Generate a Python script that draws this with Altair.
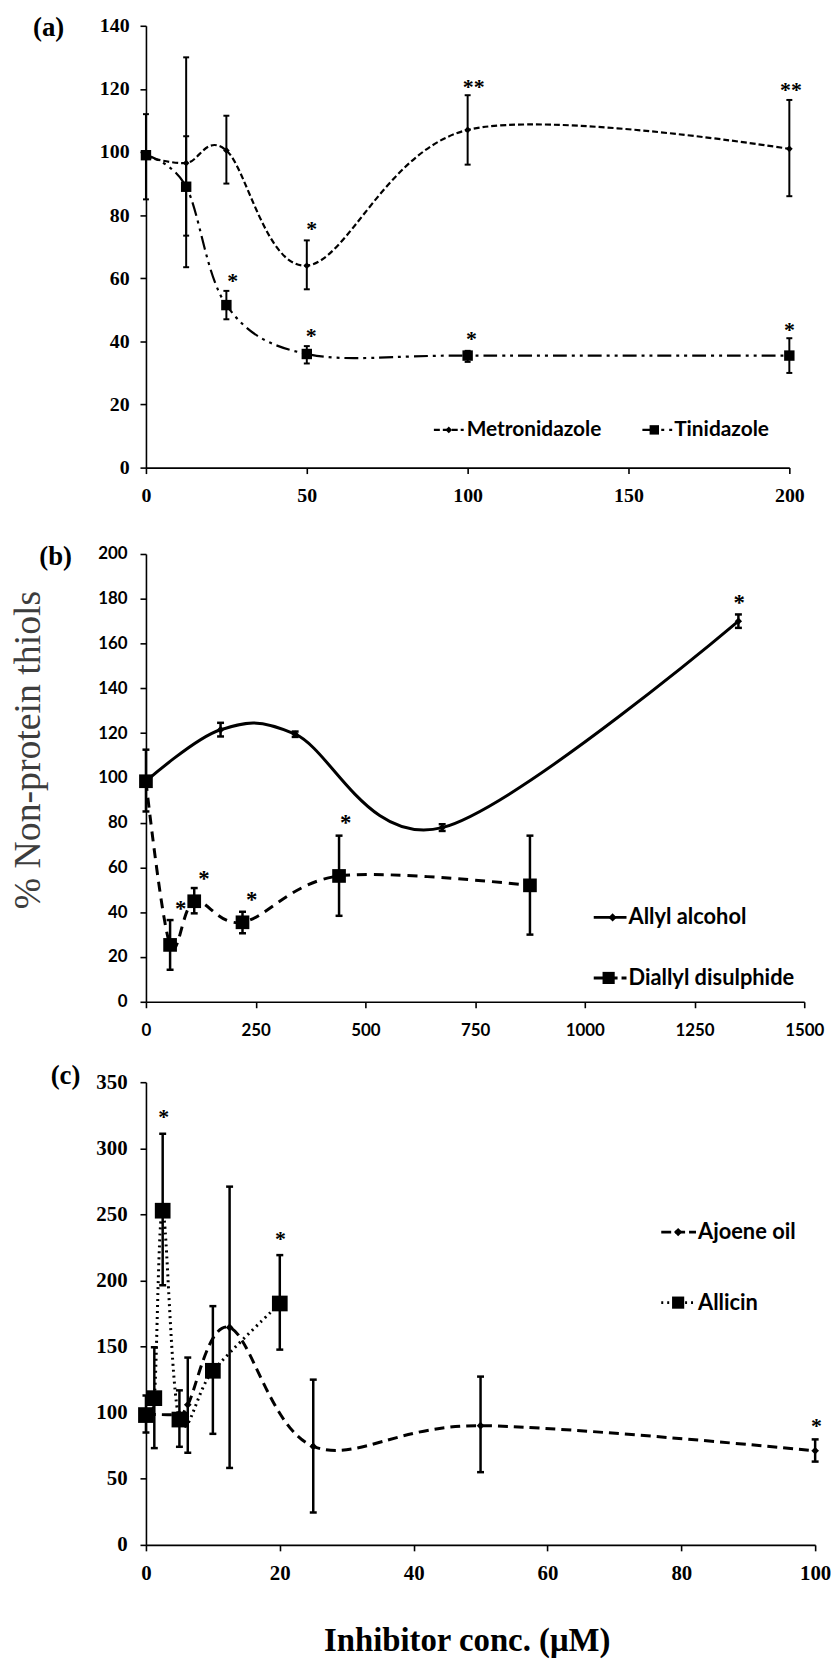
import altair as alt
import pandas as pd

# ---------------- data ----------------
# panel (a)
a_x = [0, 12.5, 25, 50, 100, 200]
metro_y = [98.5, 96.5, 100.5, 64, 107, 101]
metro_lo = [85, 73.5, 90, 56.5, 96, 86]
metro_hi = [112, 105, 111.5, 72, 118, 116.5]
tini_y = [99, 89, 51.5, 36, 35.5, 35.5]
tini_lo = [99, 63.5, 47, 33, 33.5, 30]
tini_hi = [99, 130, 56, 38.5, 37, 41]
a_star_x = [51.5, 101.9, 200.5, 27.0, 51.4, 101.2, 200]
a_star_y = [76.8, 122, 120.8, 60.5, 43, 42, 44.8]
a_star_t = ["*", "**", "**", "*", "*", "*", "*"]

# panel (b)
allyl_x = [0, 170, 340, 675, 1350]
allyl_y = [98.5, 121.5, 119.5, 77.8, 170]
allyl_lo = [98.5, 118.5, 118.3, 76.3, 167]
allyl_hi = [98.5, 124.6, 120.7, 79.3, 173]
dads_x = [0, 55, 110, 220, 440, 875]
dads_y = [98.5, 25.4, 44.9, 35.5, 56.2, 52]
dads_lo = [85, 14.3, 39.5, 30.6, 38.4, 30]
dads_hi = [112.6, 36.5, 50.8, 40.2, 74.2, 74.2]
b_star_x = [79, 132, 241, 455, 1352]
b_star_y = [43, 56.4, 47.3, 81.6, 179.9]
b_star_t = ["*", "*", "*", "*", "*"]

# panel (c)
ajo_x = [0, 5, 6.25, 12.5, 25, 50, 100]
ajo_y = [99, 99, 106, 164.5, 74.5, 90.2, 71.2]
ajo_lo = [85, 99, 69.7, 58.2, 24.5, 55, 63]
ajo_hi = [113, 99, 141.7, 271, 125, 127.3, 79.8]
alc_x = [0, 1.25, 2.5, 5, 10, 20]
alc_y = [98.2, 111, 252.8, 94.8, 131.7, 182.6]
alc_lo = [98.2, 73.2, 196.4, 74.2, 84, 147.7]
alc_hi = [98.2, 149.5, 311, 116.9, 180.6, 219.2]
c_star_x = [2.65, 20.1, 100.2]
c_star_y = [327, 234.3, 92.6]
c_star_t = ["*", "*", "*"]

SERIF = "Liberation Serif"
SANS = "Lato"


def make_axes(xdom, xticks, ydom, yticks, font, fsize, xpad, ypad,
              xtitle=None, ytitle=None, xt_kw=None, yt_kw=None):
    common = dict(grid=False, domainColor="black", domainWidth=1.6,
                  tickColor="black", tickWidth=1.6, tickSize=6,
                  labelFont=font, labelFontSize=fsize, labelFontWeight="bold",
                  labelColor="black", labelOverlap=False, labelFlush=False,
                  format="d")
    xa = alt.Axis(values=xticks, labelPadding=xpad, **common, **(xt_kw or {}))
    ya = alt.Axis(values=yticks, labelPadding=ypad, **common, **(yt_kw or {}))
    xs = alt.Scale(domain=xdom, nice=False, zero=False)
    ys = alt.Scale(domain=ydom, nice=False, zero=False)

    def X(field):
        if xtitle:
            return alt.X(field, type="quantitative", scale=xs, axis=xa, title=xtitle)
        return alt.X(field, type="quantitative", scale=xs, axis=xa, title=None)

    def Y(field):
        if ytitle:
            return alt.Y(field, type="quantitative", scale=ys, axis=ya, title=ytitle)
        return alt.Y(field, type="quantitative", scale=ys, axis=ya, title=None)
    return X, Y


def series(x, y, lo, hi, X, Y, dash, shape, size, lw, ew, capw):
    df = pd.DataFrame({"x": x, "y": y, "lo": lo, "hi": hi})
    base = alt.Chart(df)
    lkw = dict(interpolate="cardinal", color="black", strokeWidth=lw)
    if dash:
        lkw["strokeDash"] = dash
    line = base.mark_line(**lkw).encode(x=X("x"), y=Y("y"))
    rule = base.mark_rule(color="black", strokeWidth=ew).encode(
        x=X("x"), y=Y("lo"), y2="hi:Q")
    cap1 = base.mark_tick(orient="horizontal", color="black", size=capw,
                          thickness=ew, opacity=1).encode(x=X("x"), y=Y("lo"))
    cap2 = base.mark_tick(orient="horizontal", color="black", size=capw,
                          thickness=ew, opacity=1).encode(x=X("x"), y=Y("hi"))
    pts = base.mark_point(shape=shape, size=size, filled=True, color="black",
                          opacity=1).encode(x=X("x"), y=Y("y"))
    return [line], [rule, cap1, cap2, pts]


def stars(xs, ys, ts, X, Y, font, fsize, dy):
    df = pd.DataFrame({"x": xs, "y": ys, "t": ts})
    return alt.Chart(df).mark_text(font=font, fontSize=fsize, fontWeight="bold",
                                   color="black", baseline="alphabetic",
                                   align="center", dy=dy).encode(
        x=X("x"), y=Y("y"), text="t:N")


def legend_entry(label, y, x0, x1, xp, xt, dash, shape, size, sw, fsize):
    one = alt.Data(values=[{"k": 1}])
    rkw = dict(color="black", strokeWidth=sw)
    if dash:
        rkw["strokeDash"] = dash
    ln = alt.Chart(one).mark_rule(**rkw).encode(
        x=alt.value(x0), x2=alt.value(x1), y=alt.value(y))
    pt = alt.Chart(one).mark_point(shape=shape, size=size, filled=True,
                                   color="black", opacity=1).encode(
        x=alt.value(xp), y=alt.value(y))
    tx = alt.Chart(one).mark_text(text=label, align="left", baseline="middle",
                                  font=SANS, fontSize=fsize, fontWeight="bold",
                                  color="black").encode(
        x=alt.value(xt), y=alt.value(y))
    return [ln, pt, tx]


def label(txt, x, y):
    one = alt.Data(values=[{"k": 1}])
    return alt.Chart(one).mark_text(text=txt, font=SERIF, fontSize=27,
                                    fontWeight="bold", color="black",
                                    align="center", baseline="middle").encode(
        x=alt.value(x), y=alt.value(y))


# ---------------- panel (a) ----------------
Xa, Ya = make_axes([0, 200], [0, 50, 100, 150, 200], [0, 140],
                   list(range(0, 141, 20)), SERIF, 20, 12, 11)
m_l, m_o = series(a_x, metro_y, metro_lo, metro_hi, Xa, Ya, [6, 3], "diamond", 45, 2.2, 2, 6)
t_l, t_o = series(a_x, tini_y, tini_lo, tini_hi, Xa, Ya, [14, 5, 3, 5, 3, 5], "square", 110, 2.2, 2, 6)
a_layers = m_l + t_l + m_o + t_o + [stars(a_star_x, a_star_y, a_star_t, Xa, Ya, SERIF, 22, 11)]
a_layers += legend_entry("Metronidazole", 407, 290, 320, 305, 323, [6, 3], "diamond", 45, 2.2, 21)
a_layers += legend_entry("Tinidazole", 407, 500, 530, 512, 532, [14, 5, 3, 5], "square", 90, 2.2, 21)
a_layers += [label("(a)", -98, 2)]
panel_a = alt.layer(*a_layers).properties(width=648, height=445)

# ---------------- panel (b) ----------------
Xb, Yb = make_axes([0, 1500], [0, 250, 500, 750, 1000, 1250, 1500], [0, 200],
                   list(range(0, 201, 20)), SANS, 17, 15, 13,
                   ytitle="% Non-protein thiols",
                   yt_kw=dict(titleFont=SERIF, titleFontSize=38,
                              titleFontWeight="normal", titleColor="#3d3d3d",
                              titleAngle=270, titleX=-118, titleY=197,
                              titleAlign="center", titleBaseline="middle"))
al_l, al_o = series(allyl_x, allyl_y, allyl_lo, allyl_hi, Xb, Yb, None, "diamond", 55, 3, 2.5, 7)
da_l, da_o = series(dads_x, dads_y, dads_lo, dads_hi, Xb, Yb, [10, 7], "square", 190, 3, 2.5, 7)
b_layers = al_l + da_l + al_o + da_o + [stars(b_star_x, b_star_y, b_star_t, Xb, Yb, SERIF, 23, 11)]
b_layers += legend_entry("Allyl alcohol", 366, 451, 484, 470, 486, None, "diamond", 70, 3, 22)
b_layers += legend_entry("Diallyl disulphide", 427, 451, 484, 466, 486, [10, 4], "square", 150, 3, 22)
b_layers += [label("(b)", -91, 3)]
spacer = alt.Chart(alt.Data(values=[{"k": 1}])).mark_text(
    text="(b)", fontSize=10, opacity=0).encode(x=alt.value(-91), y=alt.value(-20))
b_layers += [spacer]
panel_b = alt.layer(*b_layers).properties(width=663, height=451)

# ---------------- panel (c) ----------------
Xc, Yc = make_axes([0, 100], [0, 20, 40, 60, 80, 100], [0, 350],
                   list(range(0, 351, 50)), SERIF, 21, 12, 13,
                   xtitle="Inhibitor conc. (μM)",
                   xt_kw=dict(titleFont=SERIF, titleFontSize=33,
                              titleFontWeight="bold", titleColor="black",
                              titleX=323, titleY=96, titleAlign="center",
                              titleBaseline="middle"))
aj_l, aj_o = series(ajo_x, ajo_y, ajo_lo, ajo_hi, Xc, Yc, [10, 6], "diamond", 60, 3, 2.5, 7)
ac_l, ac_o = series(alc_x, alc_y, alc_lo, alc_hi, Xc, Yc, [2, 4], "square", 250, 3, 2.5, 7)
c_layers = aj_l + ac_l + aj_o + ac_o + [stars(c_star_x, c_star_y, c_star_t, Xc, Yc, SERIF, 22, 11)]
c_layers += legend_entry("Ajoene oil", 151, 519, 554, 536, 556, [10, 4], "diamond", 70, 3, 22)
c_layers += legend_entry("Allicin", 222, 519, 554, 536, 556, [2, 4], "square", 150, 3, 22)
c_layers += [label("(c)", -81, -6)]
panel_c = alt.layer(*c_layers).properties(width=674, height=466)

chart = alt.vconcat(panel_a, panel_b, panel_c, spacing=24).properties(
    padding={"left": 10, "top": 8, "right": 5, "bottom": 0},
    background="white",
).configure_view(stroke=None)

chart.save("out.html", embed_options={"renderer": "svg", "actions": False})
